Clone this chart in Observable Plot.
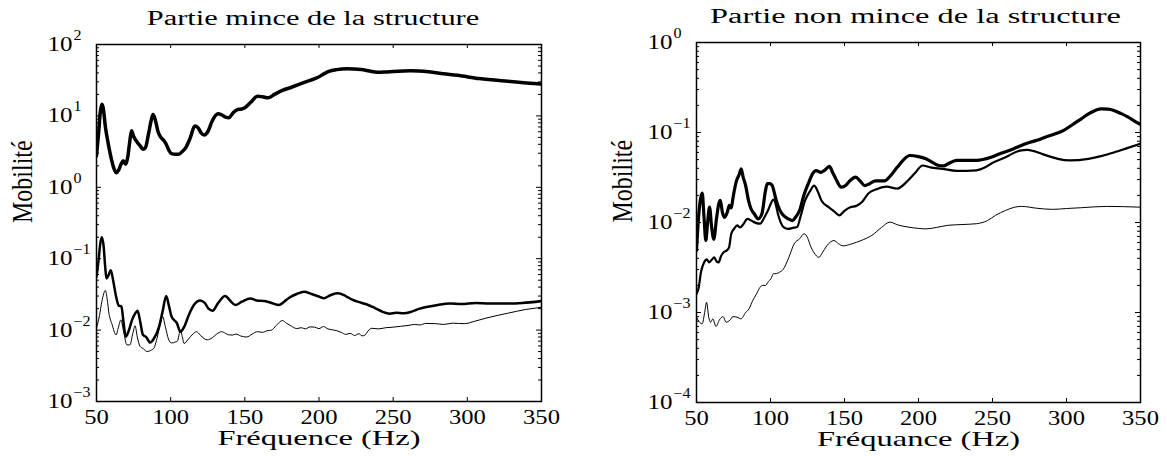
<!DOCTYPE html>
<html><head><meta charset="utf-8">
<script src="https://cdn.jsdelivr.net/npm/d3@7"></script>
<script src="https://cdn.jsdelivr.net/npm/@observablehq/plot@0.6"></script>
<style>
body{margin:0;background:#fff;}
#wrap{display:flex;width:1167px;height:456px;overflow:hidden;}
#wrap svg{background:transparent;}
</style></head><body><div id="wrap"></div>
<script>
// ---------- data ----------
const xTicks = [50, 100, 150, 200, 250, 300, 350];
const leftDecades = [1e-3, 1e-2, 1e-1, 1, 10, 100];
const rightDecades = [1e-4, 1e-3, 1e-2, 1e-1, 1];

const leftTitle = "Partie mince de la structure";
const rightTitle = "Partie non mince de la structure";
const leftXLabel = "Fréquence (Hz)";
const rightXLabel = "Fréquance (Hz)";
const yLabel = "Mobilité";

// left panel: thick upper curve
const minceA = [[50,2.75],[51.5,6],[52.5,11],[53.6,14.6],[54.5,13],[56,7],[58,4],[60,2.5],[61.5,1.9],[63.3,1.6],[65,1.75],[66.5,2.1],[68,2.35],[69.6,2.1],[71,2.6],[72.5,4.5],[73.6,6.2],[75,5.2],[77.7,4.2],[79.5,3.8],[81.3,3.4],[83,3.6],[85,5.5],[86.8,8.5],[88.1,10.5],[89.5,9],[91.5,6],[93.4,5.0],[95.5,4.5],[97,4.0],[98.8,3.3],[100.6,2.96],[103,2.9],[105.4,2.9],[108,3.2],[110.2,3.6],[113,4.8],[116.3,7.2],[118.5,6.8],[120.5,5.8],[122.8,5.4],[125,6],[128,8.5],[131.9,10.7],[134.5,10.3],[137,9.6],[139.2,9.4],[142,11],[145.2,12.3],[148,12.5],[150,13],[154,15.5],[158.5,18.9],[162,18.5],[165.7,17.9],[170,20],[175.3,22.7],[181,25],[187.4,28],[193,31],[199.4,34.7],[203,38.5],[206.7,42],[212,44.5],[218.7,45.8],[228.4,44.5],[234,42.5],[239.2,40.8],[245,41.3],[250,42],[262,43],[274,41.5],[284,39],[293.4,37],[308,33.3],[327.2,30.5],[340,29],[350,28]];
// left panel: thick lower curve
const minceB = [[50,0.0556],[51.5,0.1],[52.5,0.16],[53.6,0.2],[54.8,0.15],[55.8,0.08],[56.7,0.053],[58,0.058],[59.6,0.069],[61.2,0.05],[63.2,0.0295],[65,0.022],[66.8,0.0214],[68.2,0.013],[69.7,0.0081],[71.5,0.0095],[74,0.0139],[76,0.017],[77.7,0.0187],[79.5,0.013],[81.3,0.0086],[83.5,0.008],[86.2,0.0067],[88.5,0.0075],[92.2,0.0112],[94.5,0.018],[97,0.03],[98.8,0.022],[100.6,0.0155],[104.2,0.0125],[106.6,0.0095],[109,0.011],[112.6,0.017],[116,0.023],[119.8,0.026],[123,0.024],[125.5,0.02],[128.3,0.0187],[132,0.024],[136.8,0.03],[140,0.026],[143.5,0.0224],[148,0.025],[153.6,0.0278],[158,0.026],[163.3,0.0255],[168,0.024],[173,0.0224],[176.5,0.025],[180.2,0.0286],[185,0.032],[189.8,0.0344],[195,0.032],[199,0.03],[203.1,0.028],[208,0.031],[212.7,0.0327],[218,0.030],[222,0.027],[226,0.025],[232,0.023],[238,0.0202],[243,0.018],[247.6,0.017],[252,0.0175],[257,0.0172],[262.1,0.018],[268,0.02],[274.2,0.0214],[280,0.0225],[288.6,0.0235],[296,0.0232],[305.5,0.024],[315,0.0235],[325,0.0235],[337,0.024],[350,0.0255]];
// left panel: thin curve
const minceC = [[50,0.0106],[52,0.016],[53.6,0.025],[56,0.036],[57.2,0.027],[58.4,0.0172],[60.5,0.012],[63.2,0.0086],[64.8,0.011],[66.4,0.0139],[68.5,0.009],[70.5,0.0062],[72.5,0.0062],[74.5,0.009],[76,0.0115],[77.5,0.008],[79.4,0.0059],[81.5,0.0055],[84.2,0.005],[86.5,0.0052],[88.5,0.0055],[91,0.008],[93,0.012],[94.6,0.0155],[96.5,0.011],[98.5,0.0075],[100.6,0.0066],[103,0.0068],[104.5,0.007],[106.6,0.01],[108,0.0078],[109,0.0065],[112,0.0075],[115,0.0088],[117.5,0.0095],[120,0.0085],[122.5,0.0076],[124.7,0.0073],[128,0.0078],[131,0.0088],[134.4,0.0095],[137,0.009],[139,0.0086],[141.6,0.0085],[144,0.0088],[147,0.0083],[151.2,0.008],[155,0.0088],[158.5,0.0095],[162,0.0093],[165,0.0098],[168,0.01],[171,0.0115],[175.3,0.0136],[178,0.0125],[181,0.0115],[185,0.0105],[188,0.0108],[191,0.0104],[194,0.0111],[197,0.011],[200,0.0105],[203,0.0112],[206,0.0104],[209,0.0101],[212,0.0098],[215,0.0093],[218,0.0087],[221,0.009],[224,0.0084],[227,0.0089],[229,0.0083],[231,0.0085],[233,0.0097],[235.6,0.0106],[240,0.0104],[245,0.0108],[250,0.011],[255,0.0113],[260,0.0116],[264.4,0.012],[268,0.0118],[272,0.0124],[278.8,0.0123],[284,0.012],[290,0.0125],[298,0.0123],[305,0.0133],[312.5,0.0147],[320,0.016],[327,0.0172],[333,0.0183],[339,0.0194],[345,0.0202],[350,0.0209]];

// right panel: thickest curve
const nonA = [[50,0.0049],[51.5,0.012],[53.9,0.0212],[55,0.012],[56.3,0.0063],[57.5,0.01],[58.8,0.0148],[60.2,0.009],[61.7,0.0065],[63.5,0.011],[65,0.016],[66.1,0.0176],[67.5,0.013],[69,0.0114],[70.8,0.013],[72.2,0.0155],[73.5,0.0145],[74.7,0.019],[77,0.029],[78.8,0.034],[80.2,0.0395],[81.5,0.032],[83.2,0.0257],[85,0.018],[86.8,0.0142],[89,0.0125],[91.7,0.011],[94.2,0.0125],[96.5,0.022],[97.8,0.027],[99.5,0.027],[101,0.026],[103.9,0.0176],[106.5,0.0135],[108.8,0.012],[112,0.011],[114.9,0.0105],[117,0.0115],[119.7,0.0137],[122.5,0.02],[125.9,0.028],[128.5,0.035],[130.7,0.0378],[134,0.036],[136.5,0.038],[139.8,0.042],[142,0.036],[144.2,0.0305],[147.8,0.0247],[151,0.026],[154,0.0295],[157.6,0.0319],[160.5,0.029],[163.6,0.0257],[167,0.027],[171,0.029],[177,0.029],[181,0.033],[185.6,0.041],[190,0.05],[194.1,0.0555],[200,0.054],[205,0.051],[210,0.046],[213.7,0.043],[217,0.0425],[220,0.045],[225.8,0.0489],[232,0.049],[239.3,0.049],[249,0.053],[255,0.058],[261.2,0.063],[267,0.069],[273.4,0.076],[280,0.082],[285.6,0.0887],[292,0.096],[297.8,0.105],[304,0.122],[310,0.142],[316,0.165],[323.4,0.183],[328,0.182],[332,0.176],[337,0.162],[341.7,0.148],[346,0.134],[350,0.123]];
// right panel: medium curve
const nonB = [[50,0.0016],[51.5,0.0019],[53,0.0028],[55.1,0.0036],[57,0.0039],[58.5,0.0036],[60,0.0038],[62,0.0041],[63.5,0.0037],[65,0.0036],[66.5,0.0042],[68.5,0.0047],[70.5,0.0049],[72,0.0053],[73.5,0.0075],[75.4,0.0085],[77.5,0.0093],[79.5,0.0088],[81.5,0.0095],[84.4,0.011],[87,0.0105],[90,0.0099],[93,0.0097],[96,0.0115],[98.3,0.0136],[102,0.018],[103.5,0.016],[105,0.0125],[108.8,0.0089],[112,0.0085],[115,0.0087],[118,0.0089],[120.5,0.012],[123.4,0.0176],[126.5,0.022],[129.5,0.0257],[131.5,0.023],[134.4,0.0176],[139.3,0.0148],[143,0.0133],[146.6,0.012],[150,0.0135],[153.9,0.0148],[158,0.0153],[162,0.017],[166.1,0.021],[172,0.0235],[178.3,0.025],[185.6,0.0238],[192.9,0.0293],[198,0.036],[202.7,0.043],[208,0.041],[216,0.0395],[225.8,0.0375],[239.3,0.038],[245,0.041],[249,0.045],[258.8,0.053],[268.5,0.063],[273.4,0.064],[278,0.062],[283.2,0.058],[289,0.054],[294.2,0.051],[302,0.049],[314.8,0.051],[324,0.055],[332,0.06],[341,0.067],[350,0.075]];
// right panel: thin curve
const nonC = [[50,0.00089],[51.5,0.0008],[53.9,0.00075],[55.5,0.001],[56.8,0.0013],[58.2,0.0009],[59.5,0.00078],[61,0.00085],[63.2,0.0007],[65.5,0.00083],[68,0.0009],[70,0.00078],[72.5,0.00082],[74.7,0.0009],[78,0.00088],[80,0.00085],[83.2,0.001],[85.5,0.0011],[88,0.00136],[90.5,0.0016],[92.9,0.0019],[94.5,0.002],[96.6,0.002],[98.5,0.0022],[100.3,0.00237],[102,0.0027],[103.9,0.0027],[106,0.0028],[108.5,0.003],[112.4,0.0041],[116,0.0058],[119.7,0.0066],[122.7,0.0075],[125,0.0068],[127,0.0055],[129.5,0.0046],[132.7,0.0041],[135,0.0046],[138,0.0055],[142.9,0.0063],[146,0.0058],[149,0.0055],[155,0.0058],[161.2,0.0063],[168.5,0.0072],[175,0.0088],[180.7,0.0101],[186,0.0094],[192.9,0.0089],[200,0.0086],[205,0.0085],[212,0.0088],[219.7,0.0093],[230,0.0095],[239.3,0.0097],[246.6,0.0105],[252,0.012],[258.8,0.0136],[265,0.0148],[269.7,0.0151],[280,0.0144],[290.5,0.014],[300,0.0143],[310,0.0146],[327,0.0151],[350,0.0148]];

// ---------- drawing ----------
const FONT = "Liberation Serif";
const expText = d => String(Math.round(Math.log10(d))).replace("-", "\u2212");

function panel({width, mL, mR, mT, mB, decades, series, title, xlabel, titleDx, titleSx}) {
  const H = 456;
  const pw = width - mL - mR, ph = H - mT - mB;
  const minor = decades.slice(0, -1).flatMap(d => [2,3,4,5,6,7,8,9].map(k => d * k));
  const stretches = []; // glyph stretch per text mark, in order
  const T = (data, opts, sx, sy) => { stretches.push([sx, sy]); return Plot.text(data, {fill: "black", fontFamily: FONT, ...opts}); };
  const marks = [
    ...series.map(s => Plot.line(s.data, {x: d => d[0], y: d => d[1], stroke: "black", strokeWidth: s.w, curve: "monotone-x", clip: true})),
    Plot.frame({stroke: "black", strokeWidth: 1.5}),
    Plot.tickY(decades, {y: d => d, insetRight: pw - 5, stroke: "black", strokeWidth: 1}),
    Plot.tickY(decades, {y: d => d, insetLeft: pw - 5, stroke: "black", strokeWidth: 1}),
    Plot.tickY(minor, {y: d => d, insetRight: pw - 3, stroke: "black", strokeWidth: 1}),
    Plot.tickY(minor, {y: d => d, insetLeft: pw - 3, stroke: "black", strokeWidth: 1}),
    Plot.tickX(xTicks, {x: d => d, insetTop: ph - 4, stroke: "black", strokeWidth: 1}),
    Plot.tickX(xTicks, {x: d => d, insetBottom: ph - 4, stroke: "black", strokeWidth: 1}),
    T(decades, {y: d => d, text: () => "10", frameAnchor: "left", textAnchor: "end", lineAnchor: "middle", dx: -24, fontSize: 20}, 1.25, 1),
    T(decades, {y: d => d, text: expText, frameAnchor: "left", textAnchor: "start", lineAnchor: "middle", dx: -23, dy: -9, fontSize: 14}, 1.15, 1),
    T(xTicks, {x: d => d, text: d => String(d), frameAnchor: "bottom", lineAnchor: "middle", dy: 16, fontSize: 20}, 1.23, 1),
    T([xlabel], {text: d => d, frameAnchor: "bottom", lineAnchor: "middle", dy: 37, fontSize: 21}, 1.55, 1),
    T([yLabel], {text: d => d, frameAnchor: "left", rotate: -90, lineAnchor: "middle", dx: -74, fontSize: 24}, 1, 1.2),
    T([title], {text: d => d, frameAnchor: "top", lineAnchor: "middle", dy: -26, dx: titleDx, fontSize: 20}, titleSx, 1)
  ];
  const svg = Plot.plot({
    width, height: H,
    marginLeft: mL, marginRight: mR, marginTop: mT, marginBottom: mB,
    style: {fontFamily: FONT, background: "transparent", overflow: "visible"},
    x: {domain: [50, 350], axis: null},
    y: {type: "log", domain: [decades[0], decades[decades.length - 1]], axis: null},
    marks
  });
  const groups = [...svg.querySelectorAll("g")].filter(g => g.querySelector(":scope > text"));
  groups.forEach((g, i) => {
    const s = stretches[i];
    if (!s) return;
    g.querySelectorAll("text").forEach(t => {
      const tr = t.getAttribute("transform") || "";
      t.setAttribute("transform", `${tr} scale(${s[0]},${s[1]})`);
    });
  });
  return svg;
}

const wrap = document.getElementById("wrap");
wrap.appendChild(panel({
  width: 583, mL: 96, mR: 42, mT: 44, mB: 55,
  decades: leftDecades,
  series: [{data: minceA, w: 3.5}, {data: minceB, w: 2.5}, {data: minceC, w: 1}],
  title: leftTitle, xlabel: leftXLabel, titleDx: -6, titleSx: 1.52
}));
wrap.appendChild(panel({
  width: 584, mL: 113, mR: 27, mT: 42, mB: 54,
  decades: rightDecades,
  series: [{data: nonA, w: 3.2}, {data: nonB, w: 2.2}, {data: nonC, w: 1}],
  title: rightTitle, xlabel: rightXLabel, titleDx: -3, titleSx: 1.62
}));
</script></body></html>
